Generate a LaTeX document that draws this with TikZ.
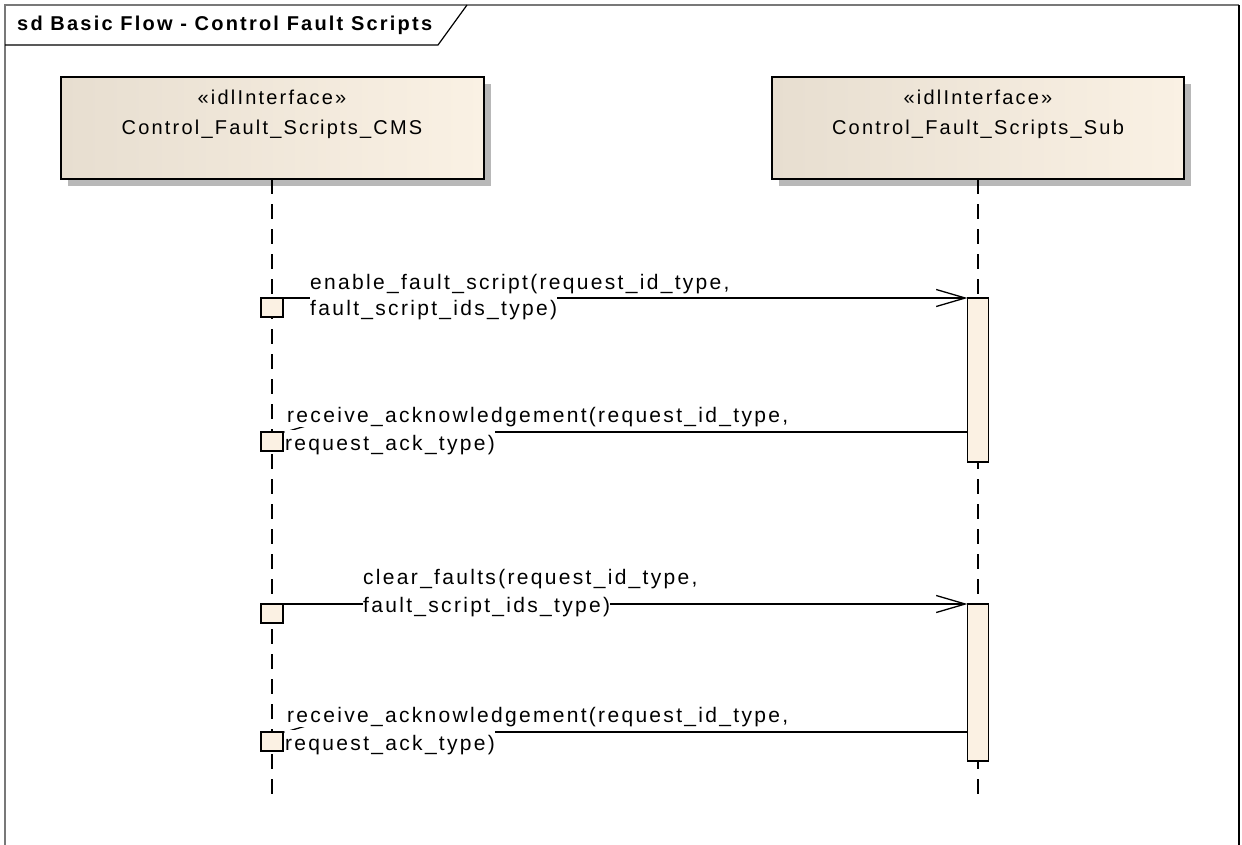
\documentclass[tikz,border=0pt]{standalone}
\usepackage{fontspec}
\setmainfont{Liberation Sans}[LetterSpace=11]
\usetikzlibrary{arrows.meta,shadows}

\definecolor{boxleft}{RGB}{231,222,208}
\definecolor{boxright}{RGB}{250,241,228}
\definecolor{actfill}{RGB}{251,241,227}
\definecolor{framegray}{RGB}{120,120,120}

\tikzset{
    lifebox/.style={draw, line width=1.5pt, left color=boxleft, right color=boxright,
        minimum height=102pt, outer sep=0pt,
        drop shadow={shadow xshift=7pt, shadow yshift=-7pt, opacity=1, fill=black!28}},
    lifeline/.style={line width=1.6pt, dash pattern=on 15pt off 10pt},
    actbox/.style={draw, line width=1.5pt, fill=actfill, minimum width=21pt, outer sep=0pt},
    callbox/.style={draw, line width=1.5pt, fill=actfill, minimum width=22pt, minimum height=19pt, outer sep=0pt, anchor=north west},
    msg/.style={line width=1.3pt},
    call/.style={msg, -{Straight Barb[length=29pt, width=17pt, line width=1.3pt]}},
    msgtxt/.style={anchor=base west, inner sep=0pt, fill=white, text height=20pt, text depth=5pt,
        font=\fontsize{21}{25}\selectfont}
}

\begin{document}
\begin{tikzpicture}[x=1pt, y=-1pt, font=\fontsize{20}{24}\selectfont]
    \useasboundingbox (0,0) rectangle (1242,844);

    %Frame and title tab
    \draw[line width=1.5pt, framegray] (5,870) -- (5,5) -- (1239,5);
    \draw[line width=1.5pt] (1239,5) -- (1239,870);
    \draw[line width=1.2pt] (5,45) -- (438,45) -- (467,5);
    \node[anchor=west, inner sep=0pt, font=\fontsize{20}{24}\selectfont\bfseries] (title) at (17,25) {sd Basic Flow - Control Fault Scripts};

    %Lifeline heads
    \node[lifebox, minimum width=423pt] (cms) at (272.5,128) {};
    \node[lifebox, minimum width=412pt] (sub) at (978,128) {};
    \node (cmsster) at (272,97) {«idlInterface»};
    \node (cmsname) at (272,129) {Control\_Fault\_Scripts\_CMS};
    \node (subster) at (978,97) {«idlInterface»};
    \node (subname) at (978,129) {Control\_Fault\_Scripts\_Sub};

    %Lifelines
    \coordinate (cmsend) at (272,795);
    \coordinate (subend) at (978,795);
    \draw[lifeline] (cmsend |- cms.south) -- (cmsend);
    \draw[lifeline] (sub.south) -- (subend);

    %Activations on Sub
    \node[actbox, minimum height=164pt] (act1) at (978,380) {};
    \node[actbox, minimum height=157pt] (act2) at (978,682.5) {};

    %Call boxes on CMS
    \foreach \n/\y in {1/298, 2/432, 3/604, 4/732} {
        \node[callbox] (c\n) at (261,\y) {};
    }

    %Messages
    \draw[call] (c1.north east) -- (act1.north west);
    \draw[call] (act1.west |- c2.north) -- (c2.north east);
    \draw[call] (c3.north east) -- (act2.north west);
    \draw[call] (act2.west |- c4.north) -- (c4.north east);

    %Message labels
    \node[msgtxt] (m1b) at (310,315) {fault\_script\_ids\_type)};
    \node[msgtxt] (m1a) at (310,289) {enable\_fault\_script(request\_id\_type,};
    \node[msgtxt] (m2b) at (285,450) {request\_ack\_type)};
    \node[msgtxt] (m2a) at (287,422) {receive\_acknowledgement(request\_id\_type,};
    \node[msgtxt] (m3b) at (363,612) {fault\_script\_ids\_type)};
    \node[msgtxt] (m3a) at (363,584) {clear\_faults(request\_id\_type,};
    \node[msgtxt] (m4b) at (285,750) {request\_ack\_type)};
    \node[msgtxt] (m4a) at (287,722) {receive\_acknowledgement(request\_id\_type,};

\end{tikzpicture}
\end{document}
